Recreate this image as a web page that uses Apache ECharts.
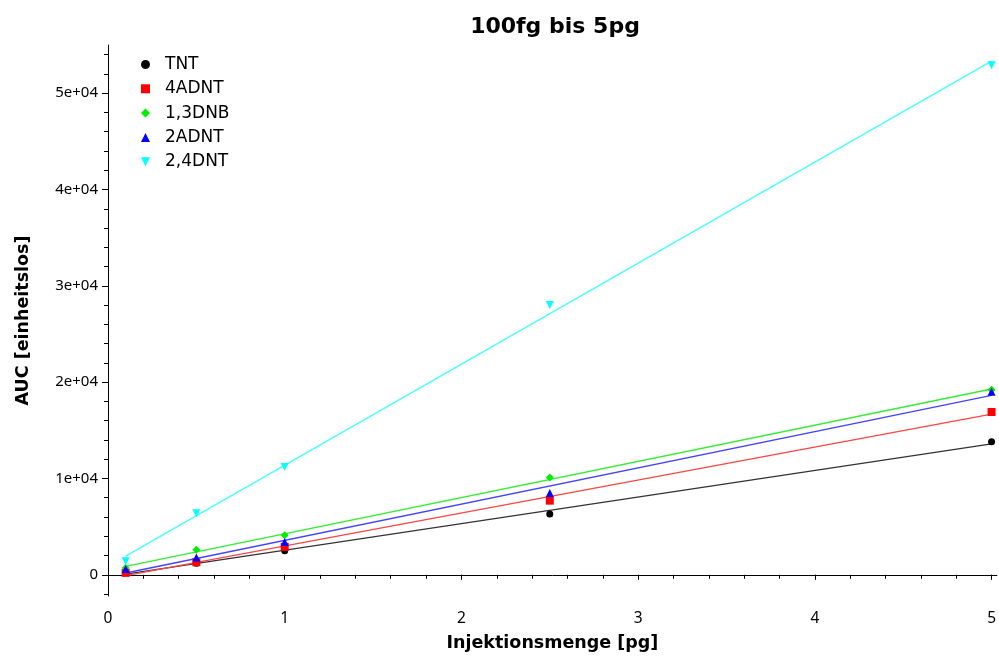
<!DOCTYPE html>
<html>
<head>
<meta charset="utf-8">
<script src="https://cdn.jsdelivr.net/npm/echarts@6/dist/echarts.min.js"></script>
<style>html,body{margin:0;padding:0;background:#fff}#c{width:999px;height:657px}</style>
</head>
<body>
<div id="c"></div>
<script>
// Data
const injection = [0.1, 0.5, 1, 2.5, 5];               // pg
const seriesNames = ['TNT', '4ADNT', '1,3DNB', '2ADNT', '2,4DNT'];
const tnt    = [300, 1200, 2500, 6300, 13800];
const adnt4  = [200, 1300, 2900, 7700, 16900];
const dnb13  = [700, 2600, 4100, 10100, 19200];
const adnt2  = [600, 1800, 3400, 8500, 19000];
const dnt24  = [1400, 6400, 11200, 28000, 52900];
const yMajorTicks = [0, 10000, 20000, 30000, 40000, 50000];
const xMajorTicks = [0, 1, 2, 3, 4, 5];

const allValues = [tnt, adnt4, dnb13, adnt2, dnt24];
const colors = ['#000000', '#ff0000', '#00ee00', '#0000ff', '#00ffff'];
const lineColors = ['#333333', '#ff4444', '#33ee33', '#4444ff', '#44ffff'];
const symbols = ['circle', 'rect', 'diamond', 'triangle', 'path://M0,0 L10,0 L5,10 Z'];
const symSizes = [7, 8, 8, 8, 8];

function fit(xs, ys) {
  const n = xs.length;
  const mx = xs.reduce((a, b) => a + b, 0) / n;
  const my = ys.reduce((a, b) => a + b, 0) / n;
  let sxy = 0, sxx = 0;
  for (let i = 0; i < n; i++) { sxy += (xs[i] - mx) * (ys[i] - my); sxx += (xs[i] - mx) ** 2; }
  const k = sxy / sxx;
  return [k, my - k * mx];
}

const minorY = [];
for (let v = -2000; v <= 54000; v += 2000) minorY.push(v);
const minorX = [];
for (let v = 0; v <= 50; v += 2) minorX.push(v / 10);

const font = 'Noto Sans';
const boldFont = 'DejaVu Sans';
const series = [];
allValues.forEach((vals, i) => {
  const [k, b] = fit(injection, vals);
  const x0 = injection[0], x1 = injection[injection.length - 1];
  series.push({
    name: seriesNames[i] + '_fit', type: 'line', xAxisIndex: 0, yAxisIndex: 0,
    data: [[x0, k * x0 + b], [x1, k * x1 + b]],
    showSymbol: false, symbol: 'none', silent: true,
    lineStyle: { color: lineColors[i], width: 1.3 }, z: 2
  });
});
allValues.forEach((vals, i) => {
  series.push({
    name: seriesNames[i], type: 'scatter', xAxisIndex: 0, yAxisIndex: 0,
    data: injection.map((x, j) => [x, vals[j]]),
    symbol: symbols[i], symbolSize: symSizes[i],
    itemStyle: { color: colors[i], opacity: 1 }, z: 3 + i
  });
});

const chart = echarts.init(document.getElementById('c'), null, { renderer: 'canvas' });
chart.setOption({
  animation: false,
  backgroundColor: '#fff',
  grid: { left: 108, right: 2, top: 45, bottom: 59, containLabel: false },
  graphic: [{
    type: 'text', x: 555, y: 27,
    style: { text: '100fg bis 5pg', font: 'bold 22px "DejaVu Sans"', fill: '#000', textAlign: 'center', textVerticalAlign: 'middle' }
  }],
  legend: {
    data: seriesNames.map((n, i) => ({ name: n, icon: symbols[i], itemStyle: { color: colors[i], opacity: 1 } })),
    orient: 'vertical', left: 136, top: 51,
    itemWidth: 9, itemHeight: 9, itemGap: 7.3,
    textStyle: { fontFamily: boldFont, fontSize: 17, color: '#000', padding: [0, 0, 0, 10] }
  },
  xAxis: [{
    type: 'value', min: 0, max: 5.03,
    name: 'Injektionsmenge [pg]', nameLocation: 'middle', nameGap: 38,
    nameTextStyle: { fontFamily: boldFont, fontWeight: 'bold', fontSize: 17.5, color: '#000' },
    axisLine: { show: true, lineStyle: { color: '#000', width: 1 } }, splitLine: { show: false },
    axisTick: { show: true, length: 5, customValues: xMajorTicks, lineStyle: { color: '#000' } },
    axisLabel: { customValues: xMajorTicks, fontFamily: font, fontSize: 15.5, color: '#000', margin: 15 }
  }, {
    type: 'value', min: 0, max: 5.03, position: 'bottom',
    axisLine: { show: false }, splitLine: { show: false },
    axisTick: { show: true, length: 4, customValues: minorX, lineStyle: { color: '#000' } },
    axisLabel: { show: false }
  }],
  yAxis: [{
    type: 'value', min: -2200, max: 55000,
    name: 'AUC [einheitslos]', nameLocation: 'middle', nameGap: 76, nameRotate: 90,
    nameTextStyle: { fontFamily: boldFont, fontWeight: 'bold', fontSize: 17.5, color: '#000' },
    axisLine: { show: true, lineStyle: { color: '#000', width: 1 } }, splitLine: { show: false },
    axisTick: { show: true, length: 6, customValues: yMajorTicks, lineStyle: { color: '#000' } },
    axisLabel: {
      customValues: yMajorTicks, fontFamily: font, fontSize: 15, color: '#000', margin: 10,
      formatter: v => v === 0 ? '0' : (v / 10000) + 'e+04'
    }
  }, {
    type: 'value', min: -2200, max: 55000, position: 'left',
    axisLine: { show: false }, splitLine: { show: false },
    axisTick: { show: true, length: 4, customValues: minorY, lineStyle: { color: '#000' } },
    axisLabel: { show: false }
  }],
  series: series
});
</script>
</body>
</html>
